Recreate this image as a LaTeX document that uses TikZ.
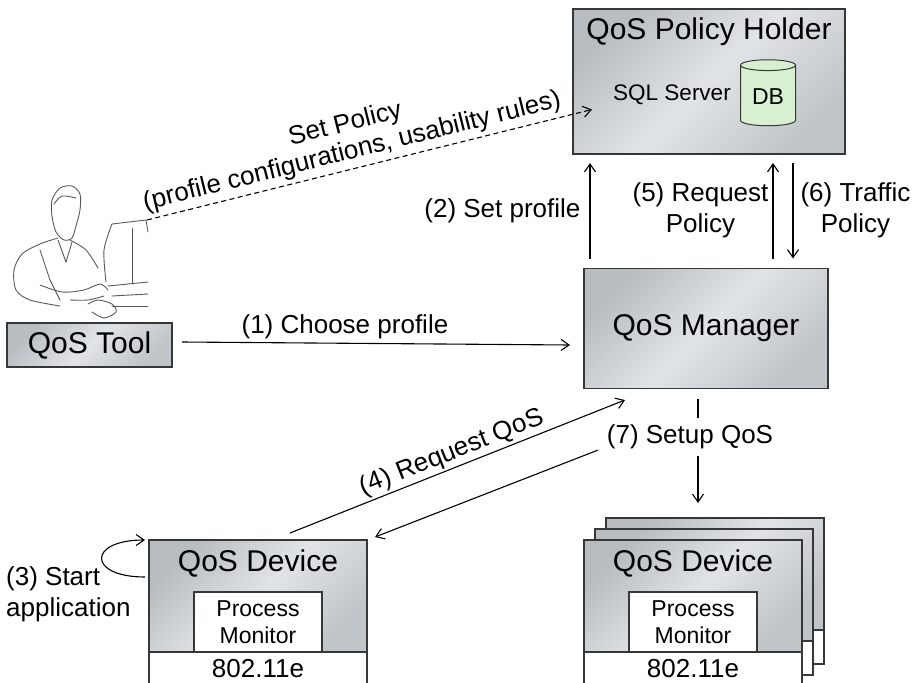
\documentclass[tikz,border=0pt]{standalone}
\usepackage{fontspec}
\setmainfont{Liberation Sans}
\usetikzlibrary{shapes.geometric,positioning,arrows.meta}

\definecolor{boxdark}{RGB}{184,189,193}
\definecolor{boxlight}{RGB}{224,228,231}
\definecolor{dbgreen}{RGB}{214,240,208}
\definecolor{edge}{RGB}{55,55,55}

\tikzset{
  shaded box/.style={draw=edge, line width=1.3pt, outer sep=0pt,
    top color=boxdark, bottom color=boxdark!80!boxlight, middle color=boxlight, shading angle=45},
  plain box/.style={draw=edge, line width=1.3pt, outer sep=0pt, fill=white},
  title/.style={font=\fontsize{30}{34}\selectfont},
  lbl/.style={font=\fontsize{26}{31}\selectfont, inner sep=4pt},
  flow/.style={-{Straight Barb[length=8pt,width=11pt]}, line width=1.1pt},
}

\begin{document}
\begin{tikzpicture}[x=1pt,y=-1pt]
    \useasboundingbox (0,0) rectangle (919,683);

    % Policy holder with its database
    \node[shaded box, minimum width=272pt, minimum height=145pt] (holder) at (709,81.5) {};
    \node[title] (holdername) at (709,32) {QoS Policy Holder};
    \node[font=\fontsize{22.5}{26}\selectfont] (sql) at (672,95) {SQL Server};
    \node[cylinder, shape border rotate=90, aspect=0.28, draw=edge, line width=1pt,
          fill=dbgreen, minimum width=55pt, minimum height=66pt,
          font=\fontsize{23}{26}\selectfont] (db) at (768,97) {DB};

    % Manager and tool
    \node[shaded box, minimum width=244pt, minimum height=120pt, title] (mgr) at (706,328.5) {QoS Manager};
    \node[shaded box, minimum width=165pt, minimum height=44pt, title] (tool) at (89.5,345) {QoS Tool};

    % Operator at the computer
    \begin{scope}[draw=gray!70!black, line width=0.9pt, line cap=round]
        \draw plot[smooth cycle] coordinates {(52,200) (60,188) (72,186) (80,194) (80,210) (76,226) (72,238) (64,240) (56,232) (52,216)};
        \draw plot[smooth] coordinates {(54,204) (62,196) (76,198)};
        \draw plot[smooth] coordinates {(58,238) (40,244) (22,254) (14,270) (16,290) (30,300) (60,306)};
        \draw plot[smooth] coordinates {(70,240) (86,250) (98,268)};
        \draw (58,240) -- (66,262) -- (72,242);
        \draw (40,250) -- (50,280) -- (60,300);
        \draw plot[smooth] coordinates {(40,285) (62,292) (84,290) (100,284) (108,290)};
        \draw plot[smooth] coordinates {(70,300) (88,300) (104,296)};
        \draw plot[smooth] coordinates {(112,224) (104,250) (106,282)};
        \draw (112,224) -- (146,220) -- (148,232);
        \draw (132,228) -- (132,284);
        \draw (108,286) -- (148,282);
        \draw (112,296) -- (148,294);
        \draw (112,306) -- (148,306);
        \draw plot[smooth] coordinates {(88,304) (98,300) (112,304) (116,312) (104,318) (92,312)};
    \end{scope}
    \coordinate (screen) at (147,220);

    % Single device
    \node[shaded box, minimum width=218pt, minimum height=112pt] (dev1) at (258,596) {};
    \node[plain box, minimum width=218pt, minimum height=34pt, below=0pt of dev1, font=\fontsize{26}{30}\selectfont] (wifi1) {802.11e};
    \node[plain box, minimum width=128pt, minimum height=60pt, above=0pt of dev1.south, align=center,
          font=\fontsize{23}{27}\selectfont] (pm1) {Process\\Monitor};
    \node[title] (dev1name) at ([yshift=-23pt]dev1.north) {QoS Device};

    % Stack of devices
    \foreach \k in {2,1} {
        \node[shaded box, minimum width=218pt, minimum height=112pt] (back\k) at (693+11*\k,596-11*\k) {};
        \node[plain box, minimum width=218pt, minimum height=34pt, below=0pt of back\k] (backwifi\k) {};
    }
    \node[shaded box, minimum width=218pt, minimum height=112pt] (dev2) at (693,596) {};
    \node[plain box, minimum width=218pt, minimum height=34pt, below=0pt of dev2, font=\fontsize{26}{30}\selectfont] (wifi2) {802.11e};
    \node[plain box, minimum width=128pt, minimum height=60pt, above=0pt of dev2.south, align=center,
          font=\fontsize{23}{27}\selectfont] (pm2) {Process\\Monitor};
    \node[title] (dev2name) at ([yshift=-23pt]dev2.north) {QoS Device};

    % Messages
    \draw[flow] ([xshift=10pt,yshift=3pt]tool.east) -- ([xshift=-14pt]mgr.west |- tool.east)
        node[lbl, above, pos=0.42] (choose) {(1) Choose profile};
    \draw[flow] ([xshift=6pt,yshift=10pt]mgr.north west) -- ([xshift=17pt,yshift=-9pt]holder.south west)
        node[lbl, left, midway, inner sep=9pt] (setprofile) {(2) Set profile};
    \draw[flow] ([xshift=-55pt,yshift=10pt]mgr.north east) -- ([xshift=-72pt,yshift=-9pt]holder.south east)
        node[lbl, left, midway, align=center] (reqpolicy) {(5) Request\\Policy};
    \draw[flow] ([xshift=-52pt,yshift=-9pt]holder.south east) -- ([xshift=-35pt,yshift=10pt]mgr.north east)
        node[lbl, right, midway, align=center, inner sep=7pt] (traffic) {(6) Traffic\\Policy};
    \draw[flow, dash pattern=on 5pt off 3.5pt] (screen) -- ([xshift=19pt,yshift=-28pt]holder.west)
        node[lbl, sloped, above, pos=0.47, align=center, font=\fontsize{26}{28}\selectfont] (setpolicy)
        {Set Policy\\(profile configurations, usability rules)};

    \draw[flow] ([xshift=-4pt,yshift=-37pt]dev1.north west) to[out=180,in=180,looseness=4] ([xshift=-4pt]dev1.north west);
    \node[lbl, align=left, anchor=west] (start) at (2,594) {(3) Start\\application};

    \draw[flow] ([xshift=32pt,yshift=7pt]dev1.north) -- ([xshift=41pt,yshift=-11.5pt]mgr.south west)
        node[lbl, sloped, above, midway, inner sep=2pt] (reqqos) {(4) Request QoS};

    \node[lbl, minimum height=38pt] (setup) at (690,437) {(7) Setup QoS};
    \coordinate (tap) at ([xshift=-8pt,yshift=-10pt]mgr.south);
    \draw[line width=1.1pt] (tap) -- (tap |- setup.north);
    \draw[flow] (tap |- setup.south) -- ([yshift=15pt]tap |- back2.north);
    \draw[flow] ([xshift=-5pt,yshift=6pt]setup.south west) -- ([xshift=8pt,yshift=3pt]dev1.north east);
\end{tikzpicture}
\end{document}
